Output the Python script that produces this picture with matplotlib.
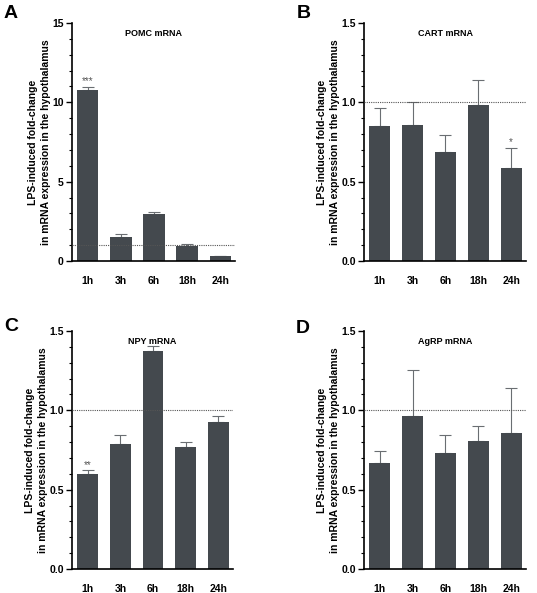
import matplotlib as mp
mp.use("Agg")
import matplotlib.pyplot as plt
from matplotlib.ticker import MultipleLocator, FormatStrFormatter
import numpy as np

mp.rcParams['font.family'] = ['Liberation Sans', 'DejaVu Sans']
mp.rcParams['font.size'] = 7.5

times = ["1h", "3h", "6h", "18h", "24h"]

# mean fold-change and upper SEM
pomc_mean = [10.79, 1.53, 2.95, 0.93, 0.30]
pomc_err = [0.16, 0.15, 0.14, 0.12, 0.03]
pomc_sig = ["***", "", "", "", ""]

cart_mean = [0.848, 0.859, 0.686, 0.985, 0.587]
cart_err = [0.116, 0.141, 0.107, 0.158, 0.124]
cart_sig = ["", "", "", "", "*"]

npy_mean = [0.599, 0.790, 1.372, 0.771, 0.929]
npy_err = [0.022, 0.053, 0.033, 0.032, 0.034]
npy_sig = ["**", "", "", "", ""]

agrp_mean = [0.669, 0.965, 0.734, 0.806, 0.858]
agrp_err = [0.076, 0.292, 0.108, 0.096, 0.283]
agrp_sig = ["", "", "", "", ""]

panels = [
    ("A", "POMC mRNA", pomc_mean, pomc_err, pomc_sig, 15, 5, 1, "%d"),
    ("B", "CART mRNA", cart_mean, cart_err, cart_sig, 1.5, 0.5, 0.1, "%.1f"),
    ("C", "NPY mRNA", npy_mean, npy_err, npy_sig, 1.5, 0.5, 0.1, "%.1f"),
    ("D", "AgRP mRNA", agrp_mean, agrp_err, agrp_sig, 1.5, 0.5, 0.1, "%.1f"),
]

W, H = 537.0, 593.0
# axes boxes in pixels: left, top, right, bottom
boxes = [(72, 23, 235, 261), (364, 23, 526, 261),
         (72, 331, 233, 569), (364, 331, 526, 569)]
# panel letter positions (left, top) in pixels
letter_pos = [(4, 5), (297, 5), (4, 318), (296, 320)]

bar_col = "#44494e"
ylab = "LPS-induced fold-change\nin mRNA expression in the hypothalamus"

fig = plt.figure(figsize=(W / 100, H / 100), dpi=100)

for (letter, title, mean, err, sig, ymax, major, minor, fmt), (l, t, r, b), (lx, ly) in zip(panels, boxes, letter_pos):
    ax = fig.add_axes([l / W, 1 - b / H, (r - l) / W, (b - t) / H])
    x = np.arange(len(times))
    ax.bar(x, mean, width=0.64, color=bar_col, zorder=2)
    ax.errorbar(x, mean, yerr=[np.zeros(len(mean)), err], fmt="none",
                ecolor="#6a6e72", elinewidth=0.8, capsize=4, capthick=0.8, zorder=1)
    ax.axhline(1.0, color="#555555", linestyle=(0, (1, 1)), linewidth=0.8, zorder=3)
    for xi, m, e, s in zip(x, mean, err, sig):
        if s:
            ax.text(xi, m + e + ymax * 0.003, s, ha="center", va="bottom",
                    fontsize=7, color="#555555")
    ax.set_xlim(-0.48, 4.45)
    ax.set_ylim(0, ymax)
    ax.set_xticks(x)
    ax.set_xticklabels(times, fontweight="bold")
    ax.tick_params(axis="x", length=0, pad=11)
    ax.yaxis.set_major_locator(MultipleLocator(major))
    ax.yaxis.set_minor_locator(MultipleLocator(minor))
    ax.yaxis.set_major_formatter(FormatStrFormatter(fmt))
    ax.tick_params(axis="y", which="major", length=4, width=1, pad=2)
    ax.tick_params(axis="y", which="minor", length=2.5, width=0.8)
    for lab in ax.get_yticklabels():
        lab.set_fontweight("bold")
    ax.spines["top"].set_visible(False)
    ax.spines["right"].set_visible(False)
    ax.spines["left"].set_linewidth(1.2)
    ax.spines["bottom"].set_linewidth(1.2)
    ax.set_ylabel(ylab, fontweight="bold", fontsize=7.5, labelpad=1, linespacing=1.4)
    ax.text(0.5, 0.975, title, transform=ax.transAxes, ha="center", va="top",
            fontweight="bold", fontsize=6.5)
    fig.text(lx / W, 1 - ly / H, letter, ha="left", va="top",
             fontweight="bold", fontsize=14)

plt.savefig("out.png", dpi=100)
